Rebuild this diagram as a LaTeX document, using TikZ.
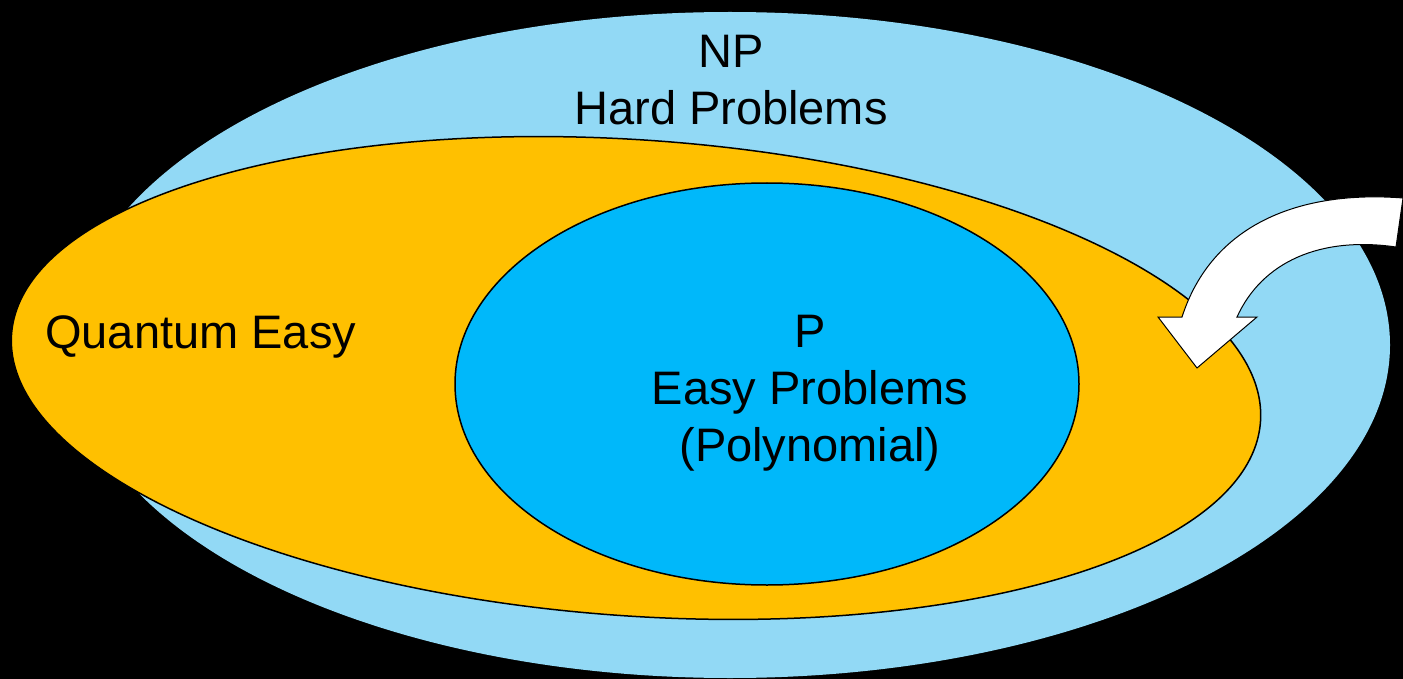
\documentclass[tikz,border=0pt]{standalone}
\usepackage{fontspec}
\setmainfont{Liberation Sans}
\definecolor{npblue}{RGB}{146,217,245}
\definecolor{qorange}{RGB}{255,192,0}
\definecolor{pblue}{RGB}{0,184,250}
\begin{document}
\begin{tikzpicture}[x=1pt,y=-1pt,
  lbl/.style={inner sep=0pt,align=center,font=\fontsize{47}{57}\selectfont},
  outl/.style={draw=black,line width=1.5pt}]
\fill[black] (0,0) rectangle (1403,679);
\useasboundingbox (0,0) rectangle (1403,679);
% NP
\fill[npblue] (730,345) ellipse [x radius=660, y radius=333];
% Quantum easy
\filldraw[fill=qorange,outl] (636,378) ellipse [x radius=626, y radius=238, rotate=-4];
% P
\filldraw[fill=pblue,outl] (767,384) ellipse [x radius=312, y radius=201];
% labels
\node[lbl] (np) at (731,80) {NP\\Hard Problems};
\node[lbl,anchor=west] (qe) at (45,337) {Quantum Easy};
\node[lbl] (p) at (810,393) {P\\Easy Problems\\(Polynomial)};
% curved arrow
\filldraw[fill=white,draw=black,line width=1pt,line join=miter]
  (1182,317) .. controls (1212,224) and (1300,190) .. (1403,198)
  -- (1396,247)
  .. controls (1320,236) and (1262,262) .. (1237,317)
  -- (1257,317) -- (1197,368) -- (1158,317) -- cycle;
\end{tikzpicture}
\end{document}
